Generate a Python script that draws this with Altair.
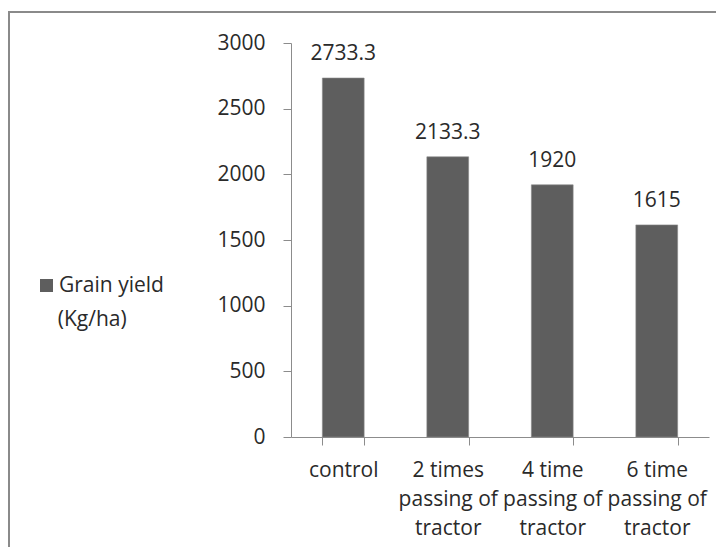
import altair as alt
import pandas as pd

categories = ["control", "2 times|passing of|tractor", "4 time|passing of|tractor", "6 time|passing of|tractor"]
grain_yield = [2733.3, 2133.3, 1920, 1615]
labels = ["2733.3", "2133.3", "1920", "1615"]
series = "Grain yield"
series_unit = "(Kg/ha)"
y_ticks = [0, 500, 1000, 1500, 2000, 2500, 3000]

df = pd.DataFrame({"cat": categories, "val": grain_yield, "lab": labels, "series": [series] * 4})

FONT = "Open Sans"
BAR = "#5e5e5e"
AXIS = "#8c8c8c"
TEXT = "#2a2a2a"
INDENT = "\u200b" + "\u00a0" * 4

x_enc = alt.X(
    "cat:N",
    sort=categories,
    scale=alt.Scale(paddingInner=0.6, paddingOuter=0.3),
    axis=alt.Axis(
        title=None, labelAngle=0, labelExpr="split(datum.label, '|')",
        labelFont=FONT, labelFontSize=21, labelColor=TEXT, labelLineHeight=29,
        labelBaseline="top", labelPadding=14,
        tickBand="extent", tickSize=8, tickColor=AXIS, domainColor=AXIS,
        labelLimit=200,
    ),
)

frame = alt.Chart(pd.DataFrame({"a": [0]})).mark_rect(
    fill=None, stroke="#8a8a8a", strokeWidth=2
).encode(
    x=alt.value(-282), x2=alt.value(600), y=alt.value(-31), y2=alt.value(700)
)

bars = alt.Chart(df).mark_bar(color=BAR, stroke="#8a8a8a", strokeWidth=0.6).encode(
    x=x_enc,
    y=alt.Y(
        "val:Q",
        scale=alt.Scale(domain=[0, 3000], nice=False),
        axis=alt.Axis(
            title=None, values=y_ticks, format="d", grid=False, labelFont=FONT, labelFontSize=21,
            labelColor=TEXT, tickSize=8, tickColor=AXIS, domainColor=AXIS, labelPadding=18,
        ),
    ),
    color=alt.Color(
        "series:N",
        scale=alt.Scale(range=[BAR]),
        legend=alt.Legend(
            title=INDENT + series_unit, titleOrient="bottom", titleAnchor="start",
            titleFont=FONT, titleFontSize=21, titleFontWeight="normal", titleColor=TEXT,
            titlePadding=13,
            orient="none", legendX=-255, legendY=232,
            labelFont=FONT, labelFontSize=21, labelColor=TEXT, labelBaseline="middle",
            symbolType="square", symbolSize=169, symbolStrokeWidth=0, labelOffset=2,
        ),
    ),
)

text = alt.Chart(df).mark_text(
    font=FONT, fontSize=21, color=TEXT, baseline="alphabetic", dy=-18
).encode(
    x=alt.X("cat:N", sort=categories),
    y="val:Q",
    text="lab:N",
)

chart = alt.layer(frame, bars, text).properties(
    width=418, height=394,
    autosize=alt.AutoSizeParams(type="none"),
    padding={"left": 283, "top": 35, "right": 7, "bottom": 110},
).configure_view(stroke=None)

chart.save("out.html", embed_options={"renderer": "svg", "actions": False})
